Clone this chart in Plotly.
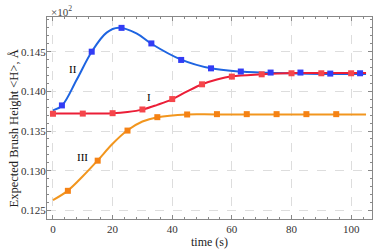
import plotly.graph_objects as go

# ---- data ----
# Curve II (blue)
ii_curve_x = [0, 3, 8, 13, 18, 22, 28, 33, 43, 53, 63, 75, 90, 105]
ii_curve_y = [0.1376, 0.1382, 0.1415, 0.1450, 0.1474, 0.1480, 0.1473, 0.1460,
              0.1440, 0.1429, 0.1425, 0.1423, 0.1422, 0.1422]
ii_mark_x = [3, 13, 23, 33, 43, 53, 63, 73, 83, 93, 103]
ii_mark_y = [0.13823, 0.1450, 0.1480, 0.14604, 0.14396, 0.1429, 0.1425,
             0.14237, 0.14237, 0.14224, 0.14228]

# Curve I (red)
i_curve_x = [0, 10, 20, 25, 30, 35, 40, 45, 50, 55, 60, 70, 80, 105]
i_curve_y = [0.1372, 0.1372, 0.13725, 0.1374, 0.1377, 0.1383, 0.1390, 0.1400,
             0.1409, 0.1415, 0.1419, 0.14215, 0.1423, 0.1423]
i_mark_x = [0, 10, 20, 30, 40, 50, 60, 70, 80, 90, 100]
i_mark_y = [0.13718, 0.1372, 0.13725, 0.13772, 0.13903, 0.14089, 0.14186,
            0.14215, 0.14228, 0.14228, 0.14228]

# Curve III (orange)
iii_curve_x = [0, 5, 10, 15, 20, 25, 30, 35, 45, 55, 105]
iii_curve_y = [0.1263, 0.1275, 0.1293, 0.1313, 0.1334, 0.1351, 0.1362,
               0.13675, 0.1371, 0.1371, 0.1371]
iii_mark_x = [5, 15, 25, 35, 45, 55, 65, 75, 85, 95]
iii_mark_y = [0.12747, 0.13127, 0.13506, 0.13675, 0.13709, 0.13713, 0.13713,
              0.13713, 0.13713, 0.13713]

x_ticks = [0, 20, 40, 60, 80, 100]
y_ticks = [0.125, 0.130, 0.135, 0.140, 0.145]

labels = [("II", 6.8, 0.14278), ("I", 32.1, 0.13928), ("III", 9.9, 0.13177)]

FONT = "Liberation Serif"

fig = go.Figure()

series = [
    (ii_curve_x, ii_curve_y, ii_mark_x, ii_mark_y, "rgb(30,100,225)", "rgb(50,60,245)"),
    (i_curve_x, i_curve_y, i_mark_x, i_mark_y, "rgb(235,30,55)", "rgb(245,70,75)"),
    (iii_curve_x, iii_curve_y, iii_mark_x, iii_mark_y, "rgb(242,150,30)", "rgb(245,130,20)"),
]

for cx, cy, mx, my, lc, mc in series:
    fig.add_trace(go.Scatter(x=cx, y=cy, mode="lines",
                             line=dict(color=lc, width=2, shape="spline", smoothing=1.0),
                             showlegend=False, hoverinfo="skip"))
for cx, cy, mx, my, lc, mc in series:
    fig.add_trace(go.Scatter(x=mx, y=my, mode="markers",
                             marker=dict(symbol="square", size=6, color=mc),
                             showlegend=False))

for txt, lx, ly in labels:
    fig.add_annotation(x=lx, y=ly, text=txt, showarrow=False,
                       font=dict(family=FONT, size=11, color="black"))

fig.add_annotation(xref="paper", yref="paper", x=0.0, y=1.0, xanchor="left",
                   yanchor="bottom", text="×10<sup>2</sup>", showarrow=False,
                   font=dict(family=FONT, size=11, color="#444"), yshift=-3, xshift=2)

fig.add_annotation(xref="paper", yref="paper", x=-0.128, y=0.45,
                   text="Expected Brush Height &lt;H&gt;, Å", textangle=-90,
                   showarrow=False, font=dict(family=FONT, size=12.5, color="#222"))

axis_common = dict(
    showline=True, linecolor="#888", linewidth=1, mirror="ticks",
    ticks="inside", ticklen=4, tickcolor="#888",
    showgrid=True, gridcolor="#dddddd", griddash="dash", gridwidth=1,
    zeroline=False, automargin=False,
    tickfont=dict(family=FONT, size=11, color="#333"),
)

fig.update_xaxes(range=[-2, 107], tickvals=x_ticks,
                 minor=dict(dtick=4, tick0=0, ticks="inside", ticklen=2, tickcolor="#888",
                            showgrid=False),
                 title=dict(text="time (s)", font=dict(family=FONT, size=12, color="#222"),
                            standoff=2),
                 **axis_common)
fig.update_yaxes(range=[0.12392, 0.14937], tickvals=y_ticks,
                 ticktext=[f"{v:.3f}" for v in y_ticks],
                 ticklabelstandoff=-2,
                 minor=dict(dtick=0.001, tick0=0.125, ticks="inside", ticklen=2,
                            tickcolor="#888", showgrid=False),
                 **axis_common)

fig.update_layout(width=374, height=250,
                  margin=dict(l=47, r=2, t=17, b=31),
                  plot_bgcolor="white", paper_bgcolor="white",
                  font=dict(family=FONT))

fig.write_html("out.html", config={"displayModeBar": False},
               post_script="document.body.style.margin='0';")
